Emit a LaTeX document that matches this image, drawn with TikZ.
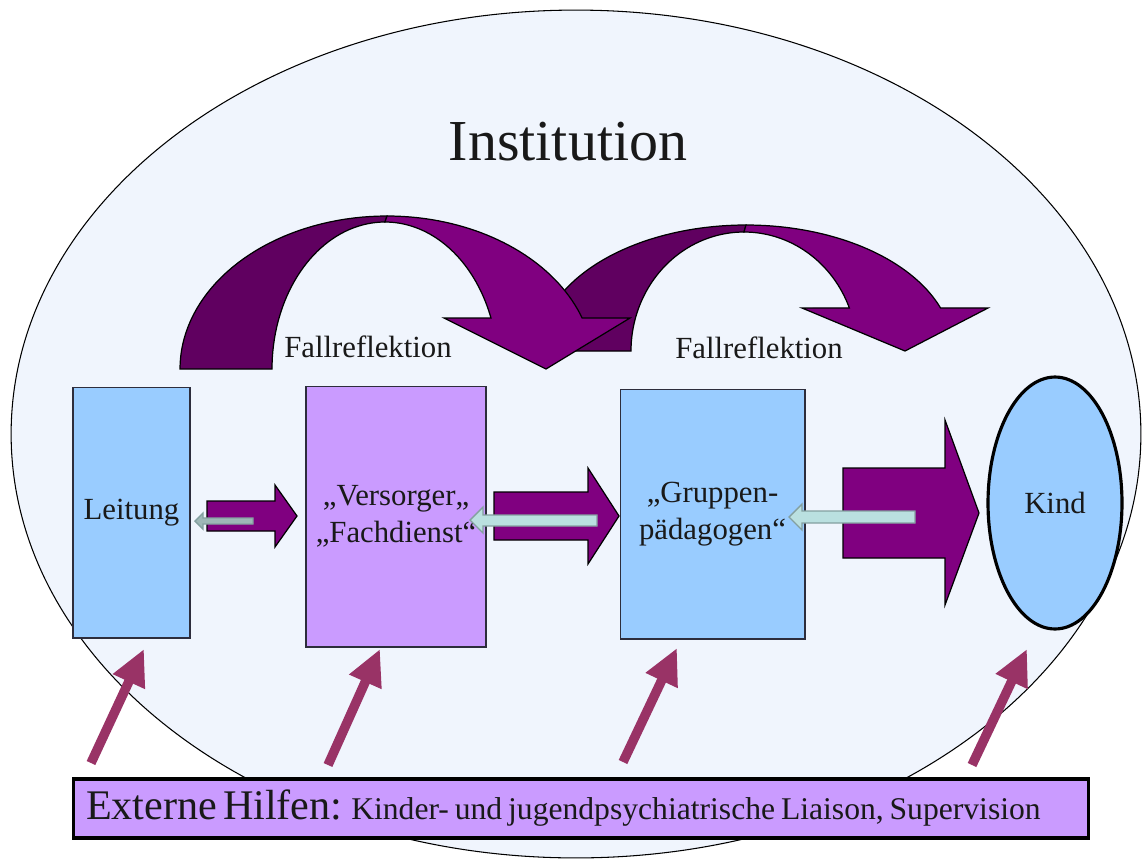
\documentclass[tikz,border=0pt]{standalone}
\usepackage{fontspec}
\setmainfont{Liberation Serif}
\usepackage{tikz}
\usetikzlibrary{arrows.meta, shapes.geometric}
\definecolor{instFill}{RGB}{240,245,253}
\definecolor{boxBlue}{RGB}{153,204,255}
\definecolor{boxLilac}{RGB}{202,155,255}
\definecolor{boxEdge}{RGB}{45,45,60}
\definecolor{flowPurple}{RGB}{128,0,128}
\definecolor{flowShade}{RGB}{96,0,96}
\definecolor{backTeal}{RGB}{186,224,224}
\definecolor{backGrey}{RGB}{158,183,183}
\definecolor{backEdge}{RGB}{132,160,160}
\definecolor{helpRed}{RGB}{153,51,102}
\definecolor{textDark}{RGB}{25,25,25}
\tikzset{
  stageNode/.style={
    draw=boxEdge,
    line width=0.6pt,
    align=center,
    inner sep=0pt,
    text=textDark,
    font=\fontsize{17.5}{21}\selectfont
  },
  blueNode/.style={stageNode, fill=boxBlue},
  lilacNode/.style={stageNode, fill=boxLilac},
  childNode/.style={stageNode, ellipse, fill=boxBlue, draw=black, line width=1.8pt},
  helpBox/.style={draw=black, line width=1.8pt, fill=boxLilac, text=textDark, align=left, inner xsep=0.26cm, inner ysep=0pt},
  labelText/.style={text=textDark, font=\fontsize{17.5}{21}\selectfont, inner sep=0pt},
  blockFlow/.style={fill=flowPurple, draw=black, line width=0.7pt, line join=miter},
  curveFront/.style={fill=flowPurple, draw=black, line width=0.7pt},
  curveBack/.style={fill=flowShade, draw=black, line width=0.7pt},
  backFlow/.style={fill=backTeal, draw=backEdge, line width=0.8pt},
  helpFlow/.style={-{Triangle[length=0.72cm, width=0.66cm]}, line width=0.19cm, draw=helpRed}
}

\begin{document}
\begin{tikzpicture}[x=0.02cm, y=-0.02cm]
  \useasboundingbox (0,0) rectangle (1142,859);

  \node[draw=black, line width=0.6pt, fill=instFill, ellipse, inner sep=0pt, minimum width=22.6cm, minimum height=16.96cm] (inst) at (576,434) {};
  \node[text=textDark, font=\fontsize{33}{38}\selectfont, inner sep=0pt] (insttitle) at (568,142) {Institution};

  % second curved arrow (behind)
  \path[curveBack] plot[domain=180:270, samples=40] ({746+207*cos(\x)}, {351+126*sin(\x)})
    -- plot[domain=270:180, samples=40] ({744+113*cos(\x)}, {351+119*sin(\x)}) -- cycle;
  \path[curveFront] plot[domain=270:340, samples=40] ({746+207*cos(\x)}, {351+126*sin(\x)})
    -- (988,308) -- (905,351) -- (802,308)
    -- plot[domain=338.8:270, samples=40] ({744+113*cos(\x)}, {351+119*sin(\x)}) -- cycle;

  % first curved arrow
  \path[curveBack] plot[domain=180:270, samples=40] ({387+207*cos(\x)}, {369+153*sin(\x)})
    -- plot[domain=270:180, samples=40] ({385+113*cos(\x)}, {369+147*sin(\x)}) -- cycle;
  \path[curveFront] plot[domain=270:340.5, samples=40] ({387+207*cos(\x)}, {369+153*sin(\x)})
    -- (630,318) -- (546,369) -- (444,318)
    -- plot[domain=339.7:270, samples=40] ({385+113*cos(\x)}, {369+147*sin(\x)}) -- cycle;

  \node[labelText] (reflexA) at (368,347) {Fallreflektion};
  \node[labelText] (reflexB) at (759,348) {Fallreflektion};

  \node[blueNode, minimum width=2.34cm, minimum height=5.02cm] (leitung) at (131.5,512.5) {Leitung};
  \node[lilacNode, minimum width=3.6cm, minimum height=5.22cm] (versorger) at (396,516.5) {„Versorger„\\„Fachdienst“};
  \node[blueNode, minimum width=3.7cm, minimum height=5.0cm] (gruppen) at (712.5,514) {„Gruppen-\\pädagogen“};
  \node[childNode, minimum width=2.68cm, minimum height=5.04cm] (kind) at (1055,503) {Kind};

  % block arrows
  \path[blockFlow] (207,501) -- (275,501) -- (275,485) -- (297,516) -- (275,547) -- (275,531) -- (207,531) -- cycle;
  \path[blockFlow] (494,492) -- (588,492) -- (588,468) -- (619,516) -- (588,564) -- (588,540) -- (494,540) -- cycle;
  \path[blockFlow] (843,468) -- (945,468) -- (945,420) -- (979,513) -- (945,605) -- (945,558) -- (843,558) -- cycle;

  % feedback arrows
  \path[backFlow, fill=backGrey] (253,518) -- (203,518) -- (203,513) -- (195,521) -- (203,529) -- (203,524) -- (253,524) -- cycle;
  \path[backFlow] (597,515) -- (483,515) -- (483,507) -- (470,520) -- (483,533) -- (483,526) -- (597,526) -- cycle;
  \path[backFlow] (915,511) -- (802,511) -- (802,504) -- (789,517) -- (802,530) -- (802,523) -- (915,523) -- cycle;

  % external help
  \coordinate (helpA) at (91,763);
  \coordinate (helpB) at (328,765);
  \coordinate (helpC) at (623,762);
  \coordinate (helpD) at (972,765);
  \coordinate (aimA) at (144,649);
  \coordinate (aimB) at (380,649);
  \coordinate (aimC) at (677,648);
  \coordinate (aimD) at (1027,649);
  \draw[helpFlow] (helpA) -- (aimA);
  \draw[helpFlow] (helpB) -- (aimB);
  \draw[helpFlow] (helpC) -- (aimC);
  \draw[helpFlow] (helpD) -- (aimD);

  \node[helpBox, minimum width=20.32cm, minimum height=1.18cm, text width=19.8cm] (extern) at (581,808.5)
    {{\fontsize{24}{28}\selectfont Externe Hilfen:} {\fontsize{18}{21}\selectfont Kinder- und jugendpsychiatrische Liaison, Supervision}};
\end{tikzpicture}
\end{document}
